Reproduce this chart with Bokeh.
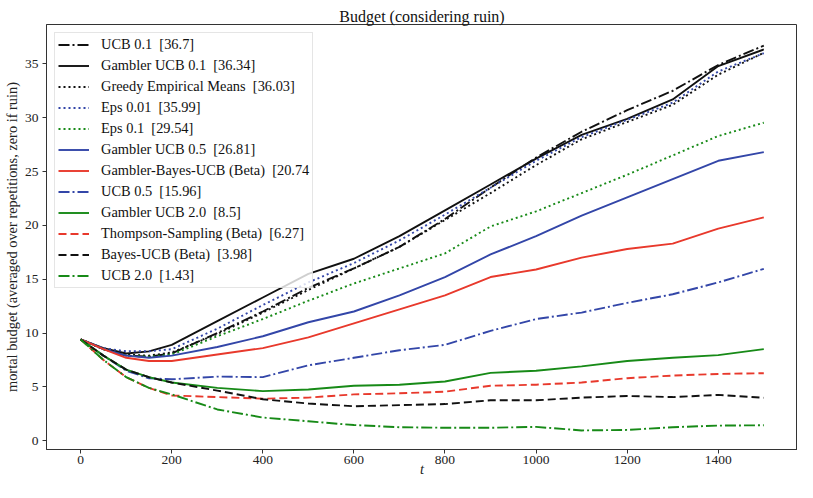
from bokeh.plotting import figure
from bokeh.models import Range1d, FixedTicker
from bokeh.embed import file_html
from bokeh.resources import INLINE

# ---- data ----
t = [0, 50, 100, 150, 200, 300, 400, 500, 600, 700, 800, 900, 1000, 1100, 1200, 1300, 1400, 1500]

ucb_01 = [9.4, 8.5, 7.9, 7.8, 8.1, 10.0, 12.0, 14.2, 16.0, 18.0, 20.6, 23.5, 26.3, 28.7, 30.7, 32.5, 34.9, 36.7]
gambler_ucb_01 = [9.4, 8.6, 8.1, 8.3, 8.9, 11.1, 13.3, 15.5, 16.9, 19.0, 21.4, 23.8, 26.2, 28.4, 29.9, 31.7, 34.8, 36.34]
greedy = [9.4, 8.5, 8.0, 7.9, 8.2, 9.9, 11.9, 14.0, 16.0, 18.0, 20.5, 23.0, 25.6, 28.0, 29.6, 31.2, 34.0, 36.03]
eps_001 = [9.4, 8.6, 8.3, 8.3, 8.5, 10.4, 12.6, 14.7, 16.5, 18.6, 21.0, 23.5, 26.0, 28.2, 29.8, 31.4, 34.3, 35.99]
eps_01 = [9.4, 8.5, 7.9, 7.8, 8.0, 9.7, 11.3, 13.0, 14.6, 16.0, 17.4, 19.9, 21.3, 23.0, 24.7, 26.5, 28.3, 29.54]
gambler_ucb_05 = [9.4, 8.5, 7.9, 7.7, 7.9, 8.7, 9.7, 11.0, 12.0, 13.5, 15.2, 17.3, 19.0, 20.9, 22.6, 24.3, 26.0, 26.81]
gambler_bayes = [9.4, 8.5, 7.7, 7.4, 7.4, 8.0, 8.6, 9.6, 10.9, 12.2, 13.5, 15.2, 15.9, 17.0, 17.8, 18.3, 19.7, 20.74]
ucb_05 = [9.4, 7.9, 6.5, 5.8, 5.7, 5.95, 5.9, 7.0, 7.7, 8.4, 8.9, 10.2, 11.3, 11.9, 12.8, 13.6, 14.7, 15.96]
gambler_ucb_20 = [9.4, 7.9, 6.6, 5.9, 5.4, 4.9, 4.6, 4.75, 5.1, 5.2, 5.5, 6.3, 6.5, 6.9, 7.4, 7.7, 7.95, 8.5]
thompson = [9.4, 7.5, 5.9, 4.9, 4.2, 4.05, 3.9, 4.0, 4.3, 4.4, 4.55, 5.1, 5.2, 5.4, 5.8, 6.05, 6.2, 6.27]
bayes_ucb = [9.4, 7.9, 6.6, 5.9, 5.4, 4.65, 3.85, 3.45, 3.2, 3.3, 3.4, 3.75, 3.75, 4.0, 4.15, 4.05, 4.25, 3.98]
ucb_20 = [9.4, 7.5, 5.9, 4.9, 4.3, 2.9, 2.15, 1.8, 1.45, 1.25, 1.2, 1.2, 1.28, 0.95, 1.0, 1.25, 1.4, 1.43]

labels = [
    "UCB 0.1  [36.7]",
    "Gambler UCB 0.1  [36.34]",
    "Greedy Empirical Means  [36.03]",
    "Eps 0.01  [35.99]",
    "Eps 0.1  [29.54]",
    "Gambler UCB 0.5  [26.81]",
    "Gambler-Bayes-UCB (Beta)  [20.74",
    "UCB 0.5  [15.96]",
    "Gambler UCB 2.0  [8.5]",
    "Thompson-Sampling (Beta)  [6.27]",
    "Bayes-UCB (Beta)  [3.98]",
    "UCB 2.0  [1.43]",
]
series = [ucb_01, gambler_ucb_01, greedy, eps_001, eps_01, gambler_ucb_05,
          gambler_bayes, ucb_05, gambler_ucb_20, thompson, bayes_ucb, ucb_20]

x_ticks = [0, 200, 400, 600, 800, 1000, 1200, 1400]
y_ticks = [0, 5, 10, 15, 20, 25, 30, 35]

# ---- styles ----
BLACK = "#111111"
BLUE = "#3346a8"
GREEN = "#178a17"
RED = "#e8392c"
DASHDOT = "11 3 2 3"
DASHED = "8 4"
DOTTED = "2 3"
colors = [BLACK, BLACK, BLACK, BLUE, GREEN, BLUE, RED, BLUE, GREEN, RED, BLACK, GREEN]
dashes = [DASHDOT, "solid", DOTTED, DOTTED, DOTTED, "solid", "solid", DASHDOT, "solid", DASHED, DASHED, DASHDOT]

FONT = "Liberation Serif"

p = figure(width=797, height=482, output_backend="svg", toolbar_location=None,
           x_range=Range1d(-75, 1574), y_range=Range1d(-0.82, 38.66),
           min_border_left=39, min_border_right=0, min_border_top=24, min_border_bottom=33)

for lab, ys, c, d in zip(labels, series, colors, dashes):
    p.line(t, ys, line_color=c, line_width=1.9, line_dash=d, line_join="round",
           legend_label=lab)

p.title.text = "Budget (considering ruin)"
p.title.align = "center"
p.title.text_font = FONT
p.title.text_font_size = "16px"
p.title.text_font_style = "normal"
p.title.text_color = "#111111"
p.title.text_line_height = 1.0
p.title.standoff = 0

p.xgrid.visible = False
p.ygrid.visible = False
p.background_fill_color = "white"
p.outline_line_color = "#333333"
p.outline_line_width = 1

p.xaxis.ticker = FixedTicker(ticks=x_ticks)
p.yaxis.ticker = FixedTicker(ticks=y_ticks)
for ax in (p.xaxis[0], p.yaxis[0]):
    ax.axis_line_color = "#333333"
    ax.major_tick_line_color = "#333333"
    ax.major_tick_in = 0
    ax.major_tick_out = 4
    ax.minor_tick_line_color = None
    ax.major_label_text_font = FONT
    ax.major_label_text_font_size = "13.5px"
    ax.major_label_text_line_height = 1.0
    ax.major_label_text_color = "#222222"
    ax.axis_label_text_font = FONT
    ax.axis_label_text_font_size = "14.4px"
    ax.axis_label_text_line_height = 1.0
    ax.axis_label_text_color = "#222222"

p.xaxis.major_label_standoff = 2
p.yaxis.major_label_standoff = 4
p.xaxis.axis_label = "t"
p.xaxis.axis_label_text_font_style = "italic"
p.xaxis.axis_label_standoff = -6
p.yaxis.axis_label = "mortal budget (averaged over repetitions, zero if ruin)"
p.yaxis.axis_label_text_font_style = "normal"
p.yaxis.axis_label_standoff = 2

lg = p.legend[0]
lg.location = "top_left"
lg.margin = 8
lg.padding = 3
lg.spacing = 4
lg.label_height = 17
lg.glyph_height = 17
lg.glyph_width = 31
lg.label_standoff = 12
lg.label_text_font = FONT
lg.label_text_font_size = "14.4px"
lg.label_text_color = "#111111"
lg.border_line_color = "#cccccc"
lg.border_line_width = 1
lg.background_fill_color = "white"
lg.background_fill_alpha = 0.8

open("out.html", "w").write(file_html(p, INLINE))
